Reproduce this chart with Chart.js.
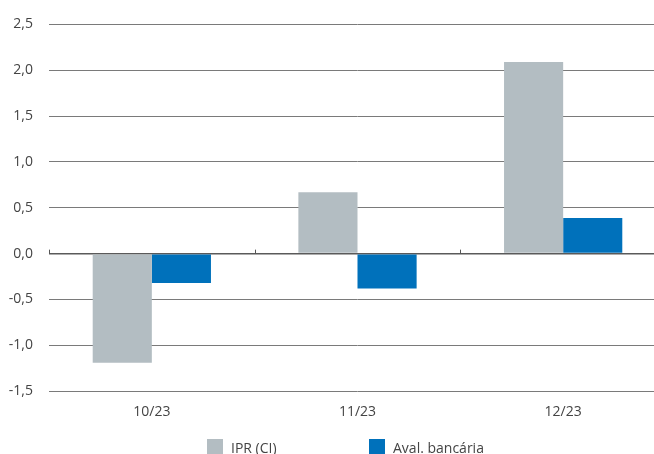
<!DOCTYPE html>
<html>
<head>
<meta charset="utf-8">
<script src="https://cdn.jsdelivr.net/npm/chart.js@4"></script>
<style>
  html, body { margin: 0; padding: 0; background: #fff; overflow: hidden; }
  .wrap { position: relative; width: 654px; height: 454px; overflow: hidden; }
  .box { position: absolute; left: 0; top: 0; width: 666px; height: 454px; }
  .legend { position: absolute; top: 439px; font: 14px "Open Sans", sans-serif; color: #444; }
  .legend span.sw { position: absolute; top: 0; width: 16px; height: 16px; }
  .legend span.tx { position: absolute; top: 0; white-space: nowrap; line-height: 17px; }
</style>
</head>
<body>
<div class="wrap">
  <div class="box"><canvas id="chart"></canvas></div>
  <div class="legend" id="legend"></div>
</div>
<script>
// months on the x axis
let labels = ['10/23', '11/23', '12/23'];

// series
let ipr = [-1.19, 0.67, 2.09];
let aval = [-0.32, -0.38, 0.39];

let grey = '#b3bdc2';
let blue = '#0071bb';

// small marks on the zero line between the months
let zeroTicks = {
    id: 'zeroTicks',
    afterDatasetsDraw(chart) {
        let ctx = chart.ctx;
        let x = chart.scales.x;
        let y0 = chart.scales.y.getPixelForValue(0);
        ctx.save();
        ctx.strokeStyle = '#555';
        ctx.lineWidth = 1;
        for (let i = 0; i < labels.length; i++) {
            let px = Math.round(x.getPixelForValue(i) - x.width / labels.length / 2) + 0.5;
            ctx.beginPath();
            ctx.moveTo(px, y0);
            ctx.lineTo(px, y0 - 4);
            ctx.stroke();
        }
        ctx.restore();
    }
};

const ctx = document.getElementById('chart').getContext('2d');
const chart = new Chart(ctx, {
    type: 'bar',
    data: {
        labels: labels,
        datasets: [{
            label: 'IPR (CI)',
            data: ipr,
            backgroundColor: grey,
            borderWidth: 0
        }, {
            label: 'Aval. bancária',
            data: aval,
            backgroundColor: blue,
            borderWidth: 0
        }]
    },
    options: {
        responsive: true,
        maintainAspectRatio: false,
        animation: false,
        layout: { padding: { top: 11, bottom: 30, left: 0, right: 0 } },
        datasets: {
            bar: { barPercentage: 1, categoryPercentage: 0.575 }
        },
        plugins: {
            legend: { display: false },
            tooltip: { enabled: false }
        },
        scales: {
            x: {
                grid: { display: false },
                border: { display: false },
                ticks: {
                    color: '#444',
                    padding: 4,
                    font: { family: 'Open Sans', size: 14 }
                }
            },
            y: {
                min: -1.5,
                max: 2.5,
                afterFit: function (scale) { scale.width = 49; },
                border: { display: false },
                grid: {
                    drawTicks: false,
                    color: function (c) { return c.tick && c.tick.value === 0 ? '#5a5a5a' : '#7a7a7a'; },
                    lineWidth: function (c) { return c.tick && c.tick.value === 0 ? 1.6 : 1; }
                },
                ticks: {
                    stepSize: 0.5,
                    padding: 16,
                    color: '#444',
                    font: { family: 'Open Sans', size: 14 },
                    callback: function (v) { return v.toFixed(1).replace('.', ','); }
                }
            }
        }
    },
    plugins: [zeroTicks]
});

// legend under the chart
let legend = document.getElementById('legend');
[[ 'IPR (CI)', grey, 207 ], [ 'Aval. bancária', blue, 369 ]].forEach(function (item) {
    let sw = document.createElement('span');
    sw.className = 'sw';
    sw.style.left = item[2] + 'px';
    sw.style.background = item[1];
    let tx = document.createElement('span');
    tx.className = 'tx';
    tx.style.left = (item[2] + 24) + 'px';
    tx.textContent = item[0];
    legend.appendChild(sw);
    legend.appendChild(tx);
});
</script>
</body>
</html>
